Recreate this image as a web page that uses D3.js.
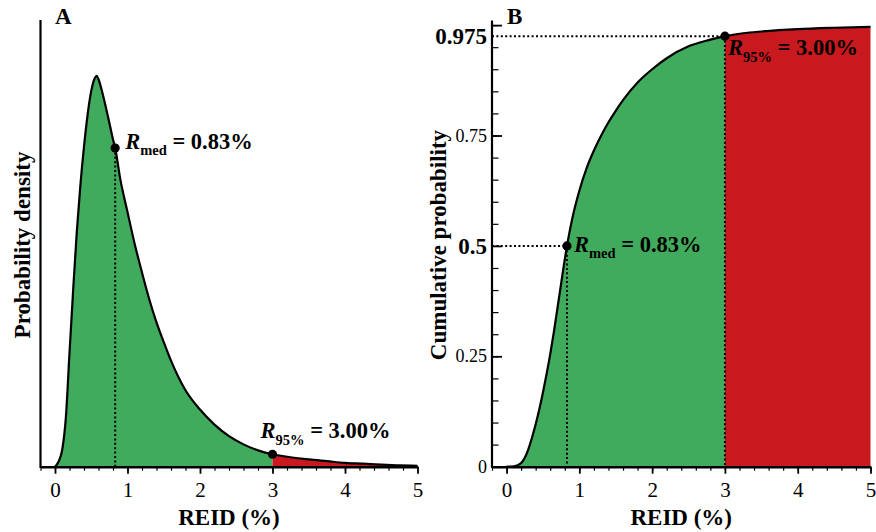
<!DOCTYPE html>
<html>
<head>
<meta charset="utf-8">
<script src="https://cdn.jsdelivr.net/npm/d3@7"></script>
<style>
  body { margin: 0; background: #fff; }
  svg { display: block; }
  text { font-family: "Liberation Serif", "Times New Roman", Times, serif; }
</style>
</head>
<body>
<div id="chart"></div>
<script>
// values
const reidTicks = [0, 1, 2, 3, 4, 5];
const minorTicks = d3.range(-0.2, 5.001, 0.2).map(v => +v.toFixed(1));

// panel A: probability density (arbitrary units)
const pdfX = [0, 0.05, 0.1, 0.15, 0.2, 0.25, 0.3, 0.35, 0.4, 0.45, 0.5, 0.55, 0.575, 0.6, 0.65,
  0.7, 0.75, 0.8, 0.83, 0.9, 1.0, 1.1, 1.2, 1.3, 1.4, 1.5, 1.6, 1.8, 2.0, 2.2, 2.4,
  2.6, 2.8, 3.0, 3.25, 3.5, 3.75, 4.0, 4.25, 4.5, 4.75, 5.0];
const pdfY = [0, 0.012, 0.04, 0.115, 0.265, 0.41, 0.545, 0.655, 0.745, 0.82, 0.875, 0.905, 0.91, 0.902, 0.873,
  0.838, 0.8, 0.762, 0.742, 0.67, 0.593, 0.518, 0.452, 0.39, 0.336, 0.29, 0.247, 0.178, 0.133, 0.098, 0.071,
  0.052, 0.038, 0.029, 0.022, 0.017, 0.013, 0.009, 0.007, 0.0048, 0.0032, 0.002];

// panel B: cumulative probability
const cdfX = [0, 0.1, 0.2, 0.25, 0.3, 0.35, 0.4, 0.45, 0.5, 0.55, 0.6, 0.65, 0.7, 0.75,
  0.8, 0.83, 0.9, 1.0, 1.1, 1.2, 1.3, 1.4, 1.5, 1.6, 1.8, 2.0, 2.2, 2.5, 2.8, 3.0,
  3.25, 3.5, 4.0, 4.5, 5.0];
const cdfY = [0, 0.001, 0.008, 0.02, 0.04, 0.066, 0.096, 0.13, 0.168, 0.21, 0.255, 0.305, 0.36, 0.415,
  0.47, 0.5, 0.56, 0.625, 0.676, 0.716, 0.75, 0.78, 0.806, 0.83, 0.87, 0.9, 0.925, 0.952, 0.967, 0.975,
  0.9815, 0.9855, 0.991, 0.994, 0.996];

const probTicks = [0, 0.25, 0.5, 0.75];
const rMed = 0.83, r95 = 3.0;
const pMed = 0.5, p95 = 0.975;

const green = '#41ab5d', red = '#c8191e';
const W = 876, H = 532;
const base = 466.7;

const svg = d3.select('#chart').append('svg').attr('width', W).attr('height', H);

const pdf = pdfX.map((x, i) => ({x, y: pdfY[i]}));
const cdf = cdfX.map((x, i) => ({x, y: cdfY[i]}));

// draws one panel: fills, curve, x axis
const drawPanel = (data, x, y) => {
  const g = svg.append('g');
  const area = d3.area().x(d => x(d.x)).y0(y(0)).y1(d => y(d.y)).curve(d3.curveMonotoneX);
  const line = d3.line().x(d => x(d.x)).y(d => y(d.y)).curve(d3.curveMonotoneX);
  g.append('path').datum(data.filter(d => d.x <= r95)).attr('d', area).attr('fill', green);
  g.append('path').datum(data.filter(d => d.x >= r95)).attr('d', area).attr('fill', red);
  g.append('path').datum(data).attr('d', line)
    .attr('fill', 'none').attr('stroke', '#000').attr('stroke-width', 2.2);

  // x axis: minor + major ticks
  const minor = g.append('g').attr('transform', `translate(0,${base})`)
    .call(d3.axisBottom(x).tickValues(minorTicks).tickFormat('').tickSize(4).tickSizeOuter(0));
  minor.select('.domain').remove();
  minor.selectAll('line').attr('stroke-width', 1.2);
  const major = g.append('g').attr('transform', `translate(0,${base})`)
    .call(d3.axisBottom(x).tickValues(reidTicks).tickFormat(d3.format('d')).tickSize(7).tickPadding(8).tickSizeOuter(0));
  major.select('.domain').attr('stroke-width', 2.6);
  major.selectAll('line').attr('stroke-width', 1.8);
  major.selectAll('text').attr('font-size', 21).attr('font-family', null);

  const [x0, x1] = x.range();
  g.append('text').attr('x', (x0 + x1) / 2).attr('y', 525)
    .attr('text-anchor', 'middle').attr('font-size', 23).attr('font-weight', 'bold')
    .text('REID (%)');
  return g;
};

const dotted = (g, x1, y1, x2, y2) => g.append('line')
  .attr('x1', x1).attr('y1', y1).attr('x2', x2).attr('y2', y2)
  .attr('stroke', '#000').attr('stroke-width', 2).attr('stroke-dasharray', '2,2.4');

const dot = (g, cx, cy) => g.append('circle').attr('cx', cx).attr('cy', cy).attr('r', 4.6).attr('fill', '#000');

const label = (g, px, py, sub, value) => {
  const t = g.append('text').attr('x', px).attr('y', py)
    .attr('font-size', 22.5).attr('font-weight', 'bold');
  t.append('tspan').attr('font-style', 'italic').text('R');
  t.append('tspan').attr('font-size', 14.5).attr('dy', 6.5).text(sub);
  t.append('tspan').attr('dy', -6.5).text('\u00a0=\u00a0' + value.toFixed(2) + '%');
};

// ---- panel A ----
const xA = d3.scaleLinear().domain([-0.2, 5]).range([40.5, 417.5]);
const yA = d3.scaleLinear().domain([0, 1.04]).range([base, 20]);
const gA = drawPanel(pdf, xA, yA);
const dMed = pdfY[pdfX.indexOf(rMed)], d95 = pdfY[pdfX.indexOf(r95)];
dotted(gA, xA(rMed), yA(dMed), xA(rMed), base);
gA.append('line').attr('x1', xA(-0.2)).attr('x2', xA(-0.2)).attr('y1', 20).attr('y2', base + 1.3)
  .attr('stroke', '#000').attr('stroke-width', 2.2);
dot(gA, xA(rMed), yA(dMed));
dot(gA, xA(r95), yA(d95));
label(gA, xA(rMed) + 10, yA(dMed) + 1, 'med', rMed);
label(gA, xA(r95) - 12, yA(d95) - 16, '95%', r95);
gA.append('text').attr('x', 55).attr('y', 24).attr('font-size', 23).attr('font-weight', 'bold').text('A');
gA.append('text').attr('transform', 'translate(29.5,245) rotate(-90)')
  .attr('text-anchor', 'middle').attr('font-size', 23).attr('font-weight', 'bold')
  .text('Probability density');

// ---- panel B ----
const xB = d3.scaleLinear().domain([-0.2, 5]).range([492, 870.5]);
const yB = d3.scaleLinear().domain([0, 1]).range([base, 25.1]);
const gB = drawPanel(cdf, xB, yB);
dotted(gB, xB(-0.2), yB(pMed), xB(rMed), yB(pMed));
dotted(gB, xB(rMed), yB(pMed), xB(rMed), base);
dotted(gB, xB(-0.2), yB(p95), xB(r95), yB(p95));
dotted(gB, xB(r95), yB(p95), xB(r95), base);

// y axis with inward ticks
const yMinor = gB.append('g').attr('transform', `translate(${xB(-0.2)},0)`)
  .call(d3.axisRight(yB).tickValues(d3.range(0, 1.001, 0.05)).tickFormat('').tickSize(6.5).tickSizeOuter(0));
yMinor.select('.domain').remove();
yMinor.selectAll('line').attr('stroke-width', 1.2);
const yMajor = gB.append('g').attr('transform', `translate(${xB(-0.2)},0)`)
  .call(d3.axisRight(yB).tickValues([...probTicks, 1]).tickFormat('').tickSize(10).tickSizeOuter(0));
yMajor.select('.domain').remove();
yMajor.selectAll('line').attr('stroke-width', 1.8);
gB.append('line').attr('x1', xB(-0.2)).attr('x2', xB(-0.2)).attr('y1', 20.5).attr('y2', base + 1.3)
  .attr('stroke', '#000').attr('stroke-width', 2.2);

const strong = [pMed, p95];
[...probTicks, p95].forEach(v => {
  const big = strong.includes(v);
  gB.append('text').attr('x', 487).attr('y', yB(v)).attr('dy', '0.34em')
    .attr('text-anchor', 'end')
    .attr('font-size', big ? 23 : 18).attr('font-weight', big ? 'bold' : 'normal')
    .text(v === 0 ? '0' : String(v));
});

dot(gB, xB(rMed), yB(pMed));
dot(gB, xB(r95), yB(p95));
label(gB, xB(rMed) + 7, yB(pMed) + 6, 'med', rMed);
label(gB, xB(r95) + 3, yB(p95) + 19, '95%', r95);
gB.append('text').attr('x', 507).attr('y', 23.5).attr('font-size', 23).attr('font-weight', 'bold').text('B');
gB.append('text').attr('transform', 'translate(446,245) rotate(-90)')
  .attr('text-anchor', 'middle').attr('font-size', 23).attr('font-weight', 'bold')
  .text('Cumulative probability');
</script>
</body>
</html>
